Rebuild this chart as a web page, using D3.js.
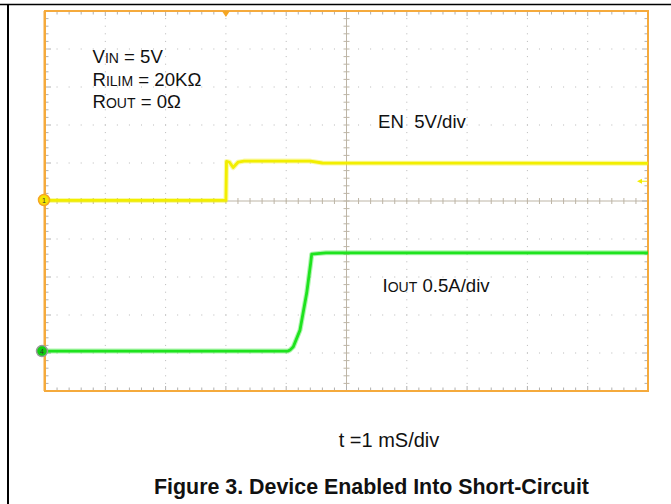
<!DOCTYPE html>
<html>
<head>
<meta charset="utf-8">
<script src="https://cdn.jsdelivr.net/npm/d3@7"></script>
<style>
  html, body { margin: 0; padding: 0; background: #fff; }
  svg { display: block; font-family: "Liberation Sans", Arial, sans-serif; }
  text { white-space: pre; }
</style>
</head>
<body>
<svg id="scope" width="671" height="504"></svg>
<script>
// Scope capture: 10 ms across, 10 divisions each way
const timeDomain = [0, 10];        // ms (1 mS/div)
const divDomain = [-5, 5];         // vertical divisions

// CH1 EN, 5 V/div, ground at 0 div
const enTime  = [0, 3.0, 3.01, 3.06, 3.12, 3.2, 3.3, 4.4, 4.6, 10];
const enVolts = [0.07, 0.07, 5.2, 5.1, 4.4, 5.1, 5.25, 5.25, 5.0, 4.96];

// CH4 IOUT, 0.5 A/div, ground at -3.95 div
const ioutTime = [0, 4.03, 4.063, 4.118, 4.229, 4.34, 4.406, 4.423, 4.66, 10];
const ioutAmps = [0, 0, 0.013, 0.057, 0.276, 0.763, 1.158, 1.276, 1.293, 1.293];

const channels = [
    { id: '1', perDiv: 5,   offset: 0,     color: '#f2ee00', marker: '#f7e600', ring: '#f5a623', t: enTime,   v: enVolts },
    { id: '4', perDiv: 0.5, offset: -3.95, color: '#1ee31e', marker: '#10d010', ring: '#9a9a9a', t: ioutTime, v: ioutAmps }
];

const triggerTime = 3.0;   // ms
const triggerLevel = 2.6;  // V on CH1

const svg = d3.select("#scope");

// Page frame lines
svg.append("line").attr("x1", 0).attr("x2", 671).attr("y1", 4.5).attr("y2", 4.5)
    .attr("stroke", "#000").attr("stroke-width", 1.5);
svg.append("line").attr("x1", 8).attr("x2", 8).attr("y1", 4).attr("y2", 504)
    .attr("stroke", "#000").attr("stroke-width", 2);

const x = d3.scaleLinear().domain(timeDomain).range([45, 648]);
const y = d3.scaleLinear().domain(divDomain).range([391, 11]);

const grid = svg.append("g");
const minorX = d3.range(0, 10.001, 0.2);
const minorY = d3.range(-5, 5.001, 0.2);

// dotted graticule on major divisions
[1, 2, 3, 4, 6, 7, 8, 9].forEach(t => {
    minorY.forEach(d => {
        grid.append("rect").attr("x", x(t) - 0.5).attr("y", y(d) - 0.5)
            .attr("width", 1).attr("height", 1).attr("fill", "#b8b8b8");
    });
});
[-4, -3, -2, -1, 1, 2, 3, 4].forEach(d => {
    minorX.forEach(t => {
        grid.append("rect").attr("x", x(t) - 0.5).attr("y", y(d) - 0.5)
            .attr("width", 1).attr("height", 1).attr("fill", "#b8b8b8");
    });
});

// center axes with ticks
const axisColor = "#bdb5a6";
grid.append("line").attr("x1", x(0)).attr("x2", x(10)).attr("y1", y(0)).attr("y2", y(0))
    .attr("stroke", axisColor).attr("stroke-width", 1);
grid.append("line").attr("x1", x(5)).attr("x2", x(5)).attr("y1", y(-5)).attr("y2", y(5))
    .attr("stroke", axisColor).attr("stroke-width", 1);
minorX.forEach(t => {
    grid.append("line").attr("x1", x(t)).attr("x2", x(t)).attr("y1", y(0) - 3).attr("y2", y(0) + 3)
        .attr("stroke", axisColor);
});
minorY.forEach(d => {
    grid.append("line").attr("x1", x(5) - 3).attr("x2", x(5) + 3).attr("y1", y(d)).attr("y2", y(d))
        .attr("stroke", axisColor);
});

// border ticks
const tickColor = "#b0b0b0";
minorX.forEach((t, i) => {
    const len = i % 5 === 0 ? 5 : 3.5;
    grid.append("line").attr("x1", x(t)).attr("x2", x(t)).attr("y1", y(5)).attr("y2", y(5) + len).attr("stroke", tickColor);
    grid.append("line").attr("x1", x(t)).attr("x2", x(t)).attr("y1", y(-5)).attr("y2", y(-5) - len).attr("stroke", tickColor);
});
minorY.forEach((d, i) => {
    const len = i % 5 === 0 ? 6 : 3.5;
    grid.append("line").attr("x1", x(0)).attr("x2", x(0) + len).attr("y1", y(d)).attr("y2", y(d)).attr("stroke", tickColor);
    grid.append("line").attr("x1", x(10)).attr("x2", x(10) - len).attr("y1", y(d)).attr("y2", y(d)).attr("stroke", tickColor);
});

// orange graticule border
svg.append("rect").attr("x", x(0)).attr("y", y(5)).attr("width", x(10) - x(0)).attr("height", y(-5) - y(5))
    .attr("fill", "none").attr("stroke", "#f5aa3c").attr("stroke-width", 2);
svg.append("line").attr("x1", x(0) - 0.5).attr("x2", x(0) - 0.5).attr("y1", y(5)).attr("y2", y(-5))
    .attr("stroke", "#f5aa3c").attr("stroke-width", 2);

// traces
channels.forEach(ch => {
    const pts = ch.t.map((t, i) => [t, ch.v[i] / ch.perDiv + ch.offset]);
    const line = d3.line().x(d => x(d[0])).y(d => y(d[1]));
    svg.append("path").datum(pts).attr("d", line)
        .attr("fill", "none").attr("stroke", ch.color).attr("stroke-width", 5).attr("stroke-opacity", 0.35)
        .attr("stroke-linejoin", "round");
    svg.append("path").datum(pts).attr("d", line)
        .attr("fill", "none").attr("stroke", ch.color).attr("stroke-width", 2.8)
        .attr("stroke-linejoin", "round");
});

// channel ground markers
channels.forEach(ch => {
    const cy = y(ch.offset) - (ch.id === '1' ? 1 : 0);
    const cx = ch.id === '1' ? 44 : 42;
    svg.append("circle").attr("cx", cx).attr("cy", cy).attr("r", 5.5)
        .attr("fill", ch.marker).attr("stroke", ch.ring).attr("stroke-width", 1.5);
    svg.append("text").attr("x", cx).attr("y", cy + 2.5).attr("text-anchor", "middle")
        .attr("font-size", 7).attr("fill", "#333").text(ch.id);
});

// trigger position marker (top) and trigger level marker (right)
const tx = x(triggerTime);
svg.append("path").attr("d", `M${tx - 4},${y(5)} L${tx + 4},${y(5)} L${tx},${y(5) + 6} Z`).attr("fill", "#f5a623");
const ty = y(triggerLevel / channels[0].perDiv + channels[0].offset);
svg.append("path").attr("d", `M${x(10) - 11},${ty} L${x(10) - 6},${ty - 2.5} L${x(10) - 6},${ty + 2.5} Z`).attr("fill", "#f2ee00");
svg.append("line").attr("x1", x(10) - 7).attr("x2", x(10) - 1).attr("y1", ty).attr("y2", ty)
    .attr("stroke", "#f2ee00").attr("stroke-width", 1);

// annotation text with small-cap suffixes
function label(px, py, parts) {
    const t = svg.append("text").attr("x", px).attr("y", py).attr("fill", "#111");
    parts.forEach(p => t.append("tspan").attr("font-size", p[1]).text(p[0]));
}
label(92.5, 63.3, [["V", 18.6], ["IN", 14], [" = 5V", 18.6]]);
label(92.5, 85.8, [["R", 18.6], ["ILIM", 14], [" = 20KΩ", 18.6]]);
label(92.5, 108.3, [["R", 18.6], ["OUT", 14], [" = 0Ω", 18.6]]);
label(378, 127.7, [["EN  5V/div", 18.6]]);
label(382.5, 291.7, [["I", 18.6], ["OUT", 14], [" 0.5A/div", 18.6]]);

svg.append("text").attr("x", 389).attr("y", 447).attr("text-anchor", "middle")
    .attr("font-size", 20).attr("fill", "#111").text("t =1 mS/div");
svg.append("text").attr("x", 371.5).attr("y", 494).attr("text-anchor", "middle")
    .attr("font-size", 21.4).attr("font-weight", "bold").attr("fill", "#111")
    .text("Figure 3. Device Enabled Into Short-Circuit");
</script>
</body>
</html>
